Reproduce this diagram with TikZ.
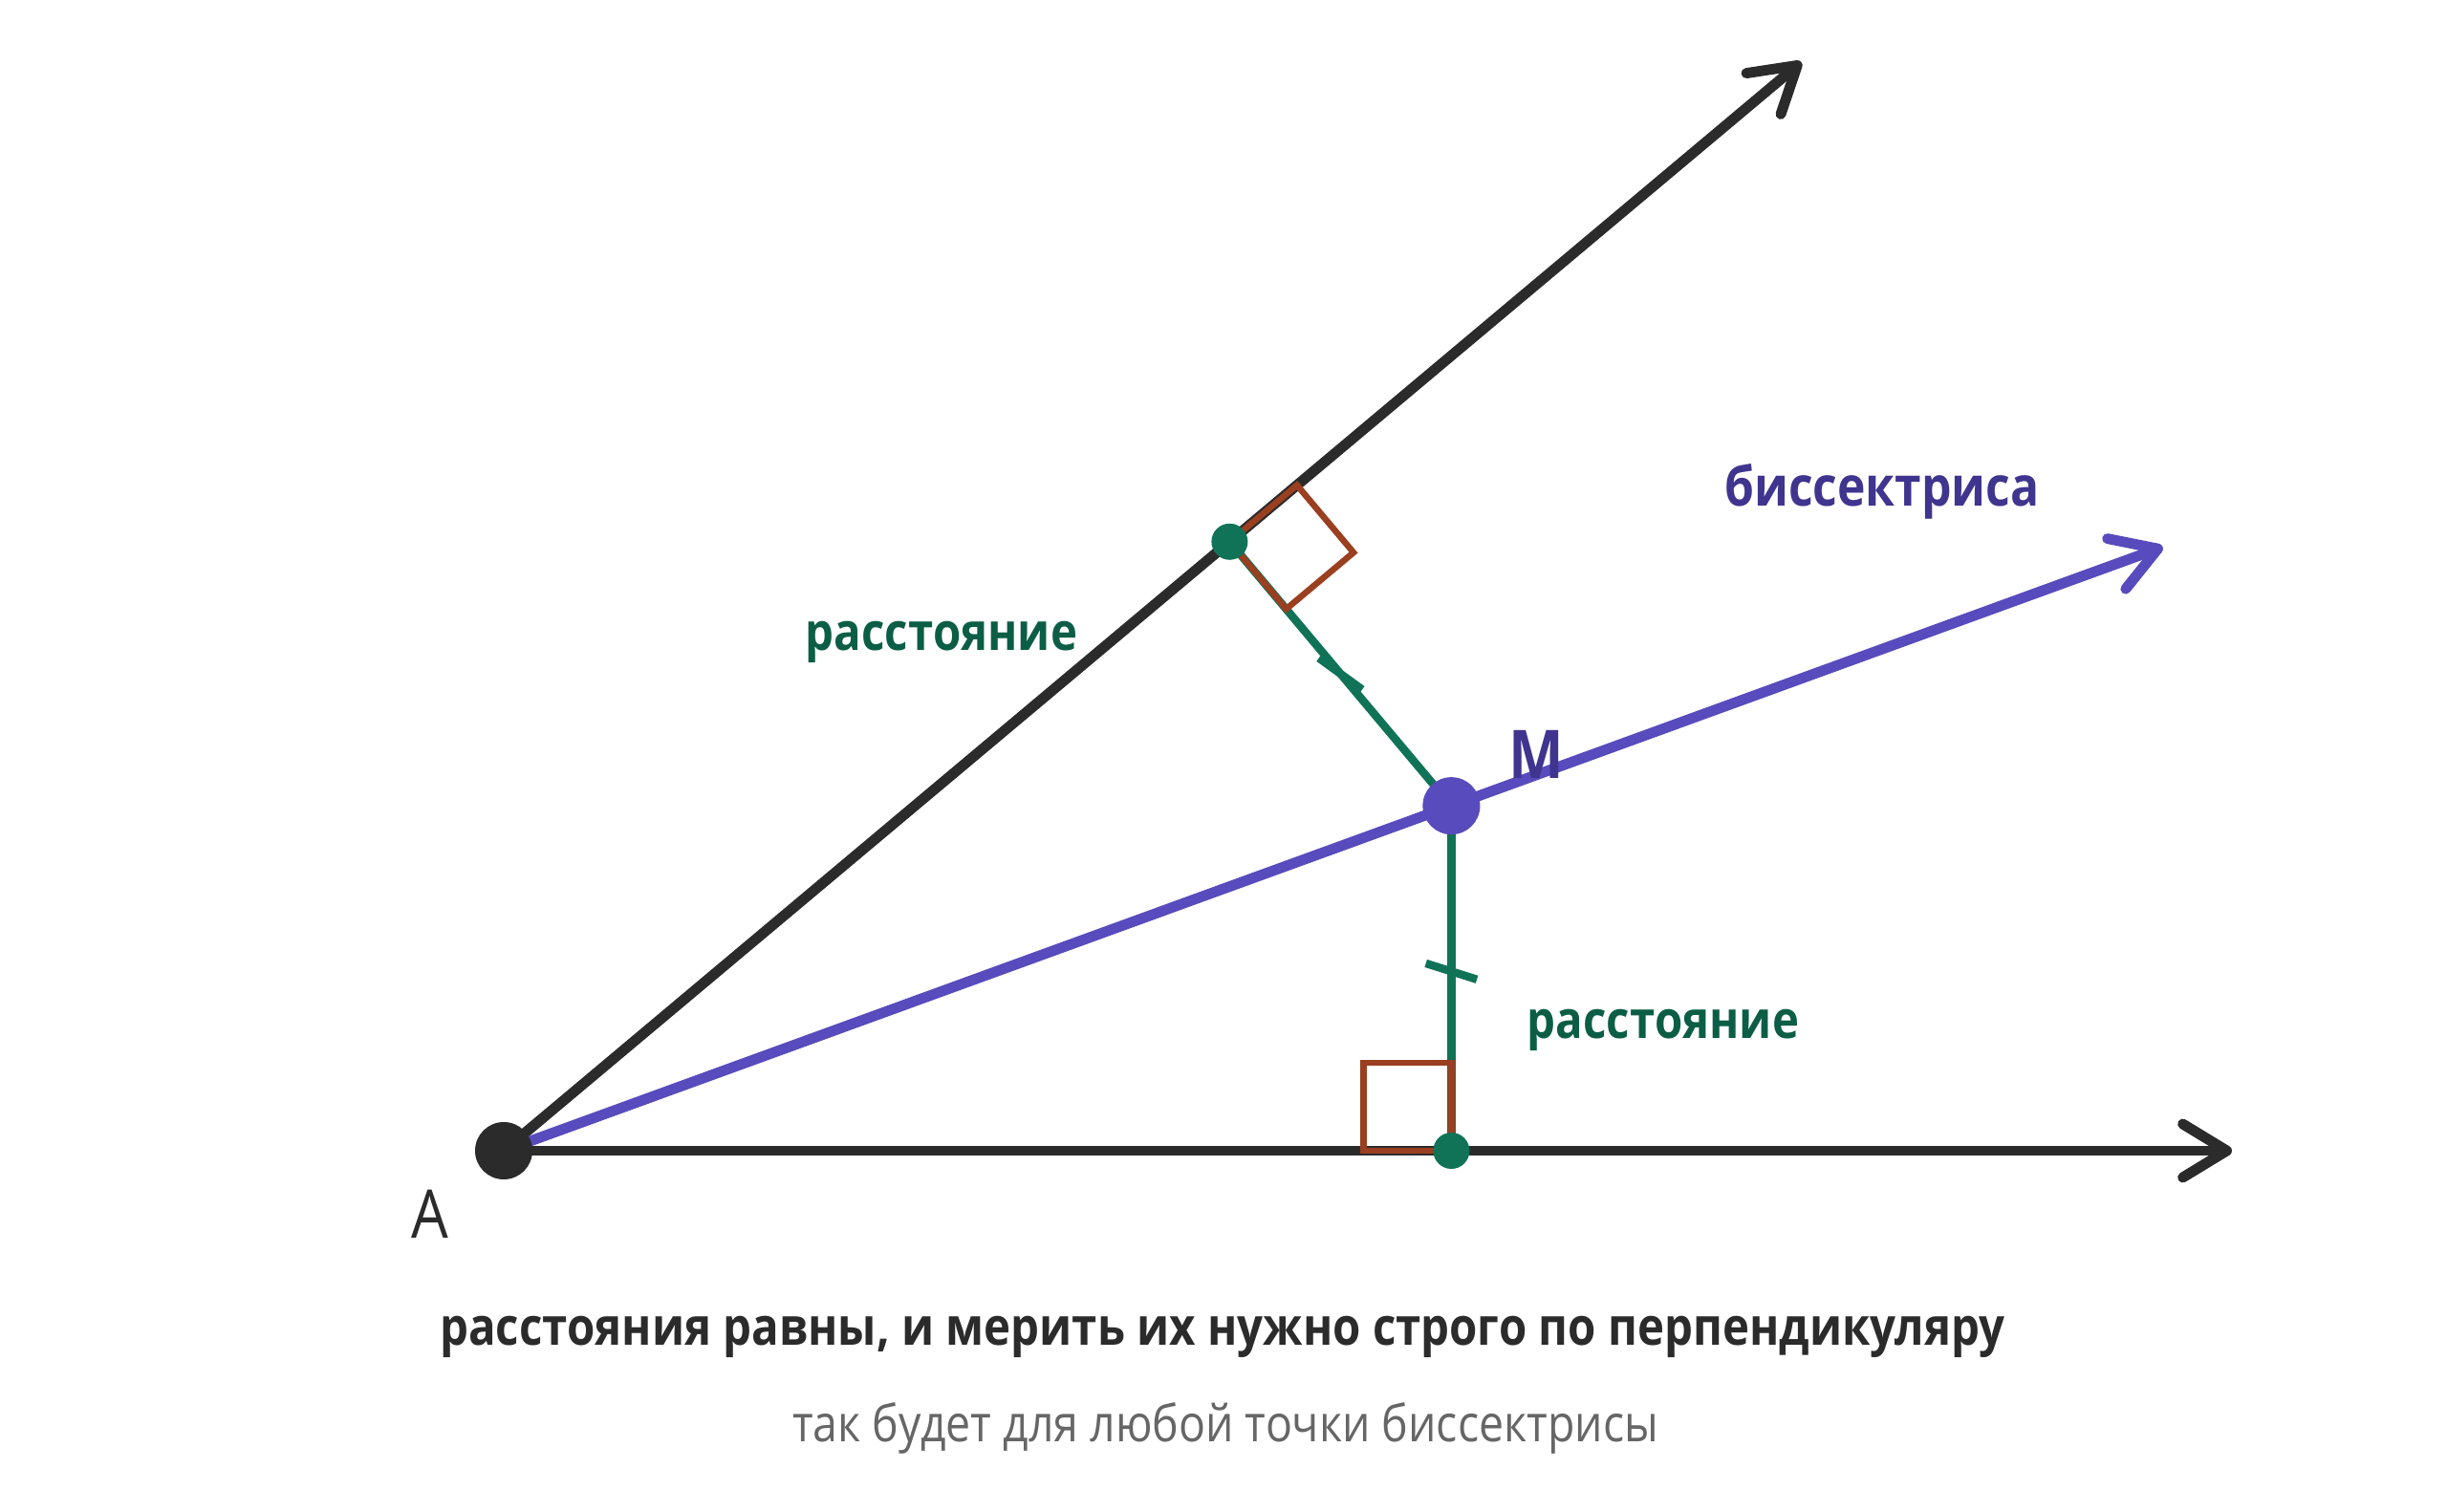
\documentclass[tikz,border=0pt]{standalone}
\usepackage{fontspec}
\setmainfont{Open Sans}[FakeStretch=0.87]
\usetikzlibrary{arrows.meta,calc}
\definecolor{ink}{HTML}{2B2B2B}
\definecolor{bis}{HTML}{574BBD}
\definecolor{bistext}{HTML}{3F358F}
\definecolor{dist}{HTML}{107358}
\definecolor{disttext}{HTML}{0B5E45}
\definecolor{rt}{HTML}{9A3F1F}
\definecolor{note}{HTML}{666666}
\tikzset{
  ray/.style={line width=3.1pt, line cap=round, -{Straight Barb[length=0.46cm,width=0.56cm,round]}},
  perp/.style={dist, line width=2.4pt},
  rightsq/.style={rt, line width=1.85pt},
  dot/.style={circle, inner sep=0pt, minimum size=#1},
  lbl/.style={anchor=base, font=\bfseries\fontsize{15.5pt}{18pt}\selectfont}
}
\begin{document}
\begin{tikzpicture}
\useasboundingbox (0,0) rectangle (25.6,15.81);
\coordinate (A) at (5.27,3.77);
\coordinate (U) at ($(A)+(40:17.72)$);
\coordinate (R) at (23.35,3.77);
\coordinate (B) at ($(A)+(20:18.47)$);
\coordinate (M) at ($(A)+(20:10.55)$);
\coordinate (F1) at ($(A)!(M)!(U)$);
\coordinate (F2) at ($(A)!(M)!(R)$);
% sides and bisector
\draw [ray, ink] (A) -- (U);
\draw [ray, ink] (A) -- (R);
\draw [ray, bis] (A) -- (B);
% distances
\draw [perp] (M) -- (F1); \draw [perp] (M) -- (F2);
\draw [perp] ($(F1)!0.5!(M)$) ++(144:0.28) -- ++(-36:0.56);
\draw [perp] ($(F2)!0.52!(M)$) ++(162.5:0.28) -- ++(-17.5:0.56);
\draw [rightsq, rotate around={40:(F1)}] (F1) rectangle ++(0.92,-0.92);
\draw [rightsq] (F2) rectangle ++(-0.92,0.92);
% points
\node [dot=0.6cm, fill=ink] (a) at (A) {};
\node [dot=0.6cm, fill=bis] (m) at (M) {};
\node [dot=0.38cm, fill=dist] (f1) at (F1) {};
\node [dot=0.38cm, fill=dist] (f2) at (F2) {};
% labels
\node [anchor=base, ink, font=\fontsize{20pt}{24pt}\selectfont] (la) at (4.50,2.86) {A};
\node [anchor=base, bistext, font=\bfseries\fontsize{20pt}{24pt}\selectfont] (lm) at (16.07,7.66) {M};
\node [lbl, bistext, font=\bfseries\fontsize{16.3pt}{19pt}\selectfont] (lb) at (19.69,10.51) {биссектриса};
\node [lbl, disttext] (ld1) at (9.85,9.00) {расстояние};
\node [lbl, disttext] (ld2) at (17.40,4.95) {расстояние};
\node [lbl, ink] (t1) at (12.79,1.74) {расстояния равны, и мерить их нужно строго по перпендикуляру};
\node [anchor=base, note, font=\fontsize{15.2pt}{18pt}\selectfont] (t2) at (12.82,0.73) {так будет для любой точки биссектрисы};
\end{tikzpicture}
\end{document}
